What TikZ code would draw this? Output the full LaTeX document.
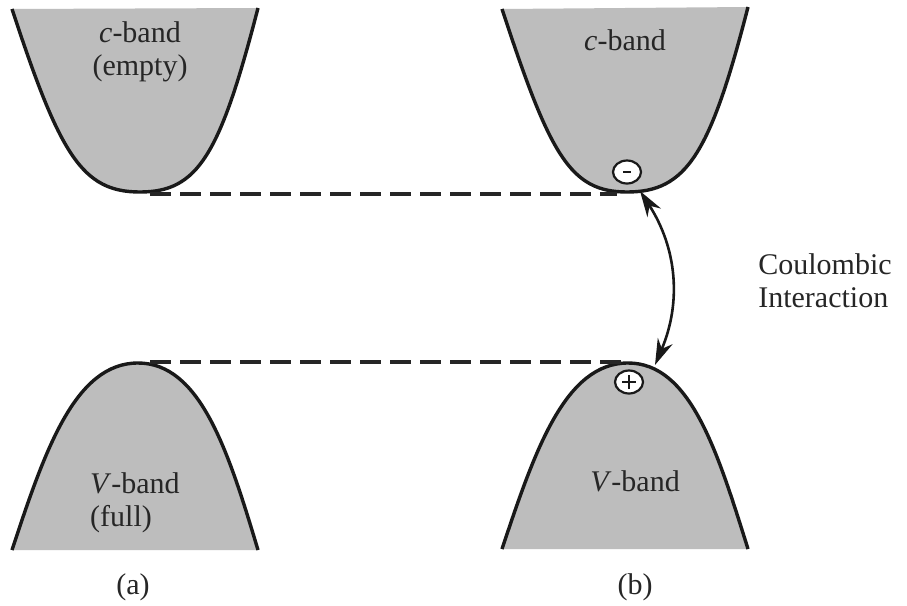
\documentclass[tikz,border=0pt]{standalone}
\usepackage{fontspec}
\setmainfont{Liberation Serif}
\usetikzlibrary{arrows.meta,shapes.geometric}
\definecolor{bandfill}{gray}{0.74}
\tikzset{
  bandline/.style={draw=black!90, line width=3.4pt},
  level/.style={black!85, line width=3.2pt, dash pattern=on 21pt off 9pt},
  lbl/.style={font=\fontsize{30}{33}\selectfont, text=black!85, inner sep=0pt},
  charge/.style={ellipse, draw=black!90, line width=2.2pt, fill=white, minimum width=28pt, minimum height=23pt, inner sep=0pt},
  sign/.style={black!90, line width=2.2pt},
  coul/.style={black!90, line width=2.6pt, {Stealth[length=26pt,width=16pt]}-{Stealth[length=26pt,width=16pt]}}
}
\begin{document}
\begin{tikzpicture}[x=1pt,y=-1pt]
\useasboundingbox[fill=white] (0,0) rectangle (907,605);
% left c-band
\path[fill=bandfill, bandline] (12,9) .. controls (60,155) and (82,192) .. (140,192) .. controls (198,192) and (220,155) .. (258,8);
% right c-band
\path[fill=bandfill, bandline] (502,9) .. controls (550,155) and (570,192) .. (627,192) .. controls (686,192) and (710,155) .. (748,7);
% left V-band
\fill[bandfill] (12,550) .. controls (45,450) and (75,363) .. (138,363) .. controls (200,363) and (228,450) .. (258,550) -- cycle;
\draw[bandline] (12,550) .. controls (45,450) and (75,363) .. (138,363) .. controls (200,363) and (228,450) .. (258,550);
% right V-band
\fill[bandfill] (502,549) .. controls (535,450) and (565,363) .. (628,363) .. controls (690,363) and (717,450) .. (748,549) -- cycle;
\draw[bandline] (502,549) .. controls (535,450) and (565,363) .. (628,363) .. controls (690,363) and (717,450) .. (748,549);

\coordinate (cL) at (150,194);
\coordinate (cR) at (617,194);
\coordinate (vL) at (150,362);
\coordinate (vR) at (622,362);
\draw[level] (cL) -- (cR);
\draw[level] (vL) -- (vR);

\node[charge] (minus) at (627,172) {};
\draw[sign] ([xshift=-4pt]minus.center) -- ([xshift=4pt]minus.center);
\node[charge] (plus) at (629,382) {};
\draw[sign] ([xshift=-7pt]plus.center) -- ([xshift=7pt]plus.center);
\draw[sign] ([yshift=-7pt]plus.center) -- ([yshift=7pt]plus.center);

\coordinate (arrTop) at (640,191);
\coordinate (arrBot) at (655,365);
\draw[coul] (arrTop) to[bend left=28] (arrBot);

\node[lbl, align=center] (cbandA) at (140,52) {\textit{c}-band\\(empty)};
\node[lbl] (cbandB) at (625,40) {\textit{c}-band};
\node[lbl, align=left, anchor=west] (vbandA) at (90,503) {\textit{V}-band\\(full)};
\node[lbl] (vbandB) at (635,481) {\textit{V}-band};
\node[lbl, align=left] (coulomb) at (825,281) {Coulombic\\Interaction};
\node[lbl] (labA) at (133,587) {(a)};
\node[lbl] (labB) at (635,587) {(b)};
\end{tikzpicture}
\end{document}
